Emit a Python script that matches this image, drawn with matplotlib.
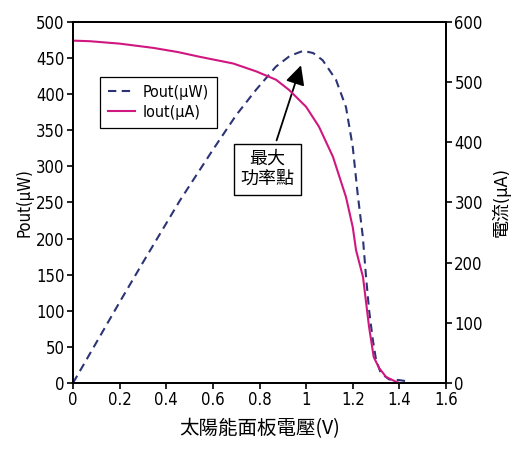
import matplotlib
matplotlib.use("Agg")
import matplotlib.pyplot as plt

plt.rcParams['font.family'] = ['DejaVu Sans', 'Noto Sans CJK TC']
plt.rcParams['font.stretch'] = 'condensed'

# Iout curve (right axis, uA)
v_iout = [0, 0.073, 0.2, 0.343, 0.45, 0.545, 0.687, 0.785, 0.871, 0.927, 1.0,
          1.055, 1.115, 1.171, 1.2, 1.214, 1.244, 1.27, 1.29, 1.313, 1.343, 1.386, 1.40]
iout = [569, 568, 564, 557, 550, 542, 531, 518, 504, 487, 459,
        426, 376, 309, 259, 221, 176, 93, 43, 25, 10, 2, 0]

# Pout curve (left axis, uW)
v_pout = [0, 0.1, 0.2, 0.3, 0.459, 0.6, 0.7, 0.785, 0.87, 0.93, 0.987, 1.03,
          1.071, 1.128, 1.171, 1.2, 1.221, 1.243, 1.257, 1.27, 1.286, 1.30, 1.32,
          1.356, 1.40, 1.44]
pout = [0, 56, 112, 167, 253, 323, 371, 406, 438, 453, 460, 457,
        447, 420, 382, 327, 262, 203, 147, 101, 60, 32, 14,
        5, 4, 2]

xticks = [0, 0.2, 0.4, 0.6, 0.8, 1, 1.2, 1.4, 1.6]
xticklabels = ['0', '0.2', '0.4', '0.6', '0.8', '1', '1.2', '1.4', '1.6']

navy = '#2d3475'
magenta = '#d0177f'

fig = plt.figure(figsize=(5.12, 4.53), dpi=100)
ax = fig.add_axes([0.1426, 0.1545, 0.7285, 0.797])
ax2 = ax.twinx()

lp, = ax.plot(v_pout, pout, color=navy, lw=1.5, linestyle=(0, (4, 2.6)), label='Pout(μW)')
li, = ax2.plot(v_iout, iout, color=magenta, lw=1.5, label='Iout(μA)')

ax.set_xlim(0, 1.6)
ax.set_ylim(0, 500)
ax2.set_ylim(0, 600)
ax.set_xticks(xticks)
ax.set_xticklabels(xticklabels)
ax.set_yticks(range(0, 501, 50))
ax2.set_yticks(range(0, 601, 100))

for a in (ax, ax2):
    for s in a.spines.values():
        s.set_linewidth(1.3)
    a.tick_params(direction='out', length=4, width=1.2, labelsize=12, pad=2)
ax.tick_params(top=False)

ax.set_ylabel('Pout(μW)', fontsize=12, labelpad=2)
ax2.set_ylabel('電流(μA)', fontsize=13, labelpad=6)
ax.set_xlabel('太陽能面板電壓(V)', fontsize=14, labelpad=6,
              family=['Noto Sans CJK TC', 'DejaVu Sans'])

leg = ax.legend([lp, li], ['Pout(μW)', 'Iout(μA)'], loc='upper left',
                bbox_to_anchor=(0.072, 0.848), borderaxespad=0, fancybox=False,
                edgecolor='black', fontsize=11.5, handlelength=1.7,
                handletextpad=0.5, borderpad=0.5, labelspacing=0.3, framealpha=1)
leg.get_frame().set_linewidth(0.9)

ax.annotate('最大\n功率點', xy=(0.978, 440), xytext=(0.833, 296),
            ha='center', va='center', fontsize=13, family=['Noto Sans CJK TC'],
            bbox=dict(boxstyle='square,pad=0.35', fc='white', ec='black', lw=1),
            arrowprops=dict(arrowstyle='-|>,head_length=0.9,head_width=0.45',
                            color='black', lw=1.3, shrinkA=2, shrinkB=0))

fig.savefig('out.png', dpi=100)
